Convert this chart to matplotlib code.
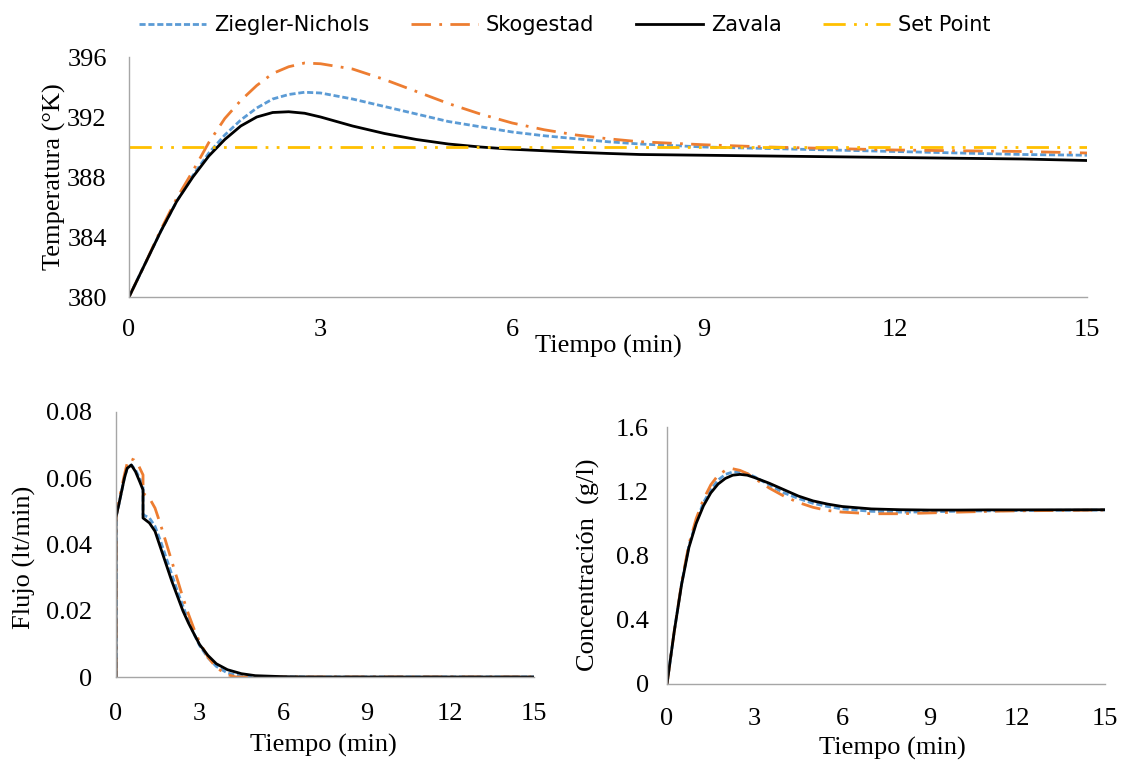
import matplotlib
matplotlib.use("Agg")
import matplotlib.pyplot as plt

# ---------------- data ----------------
# Temperature response (K)
t_temp = [0, 0.25, 0.5, 0.75, 1.0, 1.25, 1.5, 1.75, 2.0, 2.25, 2.5, 2.75, 3.0,
          3.5, 4.0, 4.5, 5.0, 5.5, 6.0, 6.5, 7.0, 7.5, 8.0, 9.0, 10.0, 11.0,
          12.0, 13.0, 14.0, 15.0]
temp_zn = [380, 382.2, 384.4, 386.4, 388.1, 389.6, 390.8, 391.8, 392.6, 393.2,
           393.5, 393.65, 393.6, 393.2, 392.7, 392.2, 391.7, 391.35, 391.0,
           390.75, 390.55, 390.35, 390.2, 390.0, 389.9, 389.8, 389.7, 389.6,
           389.5, 389.45]
temp_sk = [380, 382.2, 384.5, 386.6, 388.4, 390.3, 391.9, 393.1, 394.1, 394.9,
           395.35, 395.6, 395.55, 395.2, 394.5, 393.7, 392.9, 392.2, 391.6,
           391.15, 390.8, 390.55, 390.35, 390.15, 390.0, 389.9, 389.8, 389.75,
           389.7, 389.6]
temp_za = [380, 382.2, 384.4, 386.4, 388.0, 389.4, 390.5, 391.4, 392.0, 392.3,
           392.35, 392.25, 392.0, 391.4, 390.9, 390.5, 390.2, 390.0, 389.85,
           389.75, 389.65, 389.57, 389.5, 389.45, 389.4, 389.35, 389.3, 389.25,
           389.2, 389.1]
set_point = 390

# Flow response (lt/min)
t_flow_zn = [0, 0, 0.1, 0.2, 0.3, 0.4, 0.55, 0.7, 0.85, 0.97, 0.97, 1.2, 1.4,
             1.6, 1.8, 2.0, 2.2, 2.4, 2.6, 2.8, 3.0, 3.3, 3.6, 4.0, 4.5, 5.0, 15.0]
flow_zn = [0, 0.048, 0.052, 0.056, 0.060, 0.063, 0.064, 0.0625, 0.060, 0.0575,
           0.049, 0.048, 0.0455, 0.041, 0.036, 0.031, 0.026, 0.0215, 0.017,
           0.013, 0.0095, 0.0058, 0.0032, 0.0012, 0.0002, 0, 0]
t_flow_sk = [0, 0, 0.1, 0.2, 0.3, 0.4, 0.5, 0.65, 0.8, 0.97, 0.97, 1.2, 1.4,
             1.6, 1.8, 2.0, 2.2, 2.4, 2.6, 2.8, 3.0, 3.3, 3.6, 4.0, 4.3, 15.0]
flow_sk = [0, 0.048, 0.053, 0.057, 0.061, 0.0645, 0.066, 0.0655, 0.064, 0.061,
           0.0555, 0.054, 0.051, 0.046, 0.0405, 0.035, 0.0295, 0.024, 0.019,
           0.0145, 0.0105, 0.006, 0.0028, 0.0007, 0, 0]
t_flow_za = [0, 0, 0.1, 0.2, 0.3, 0.4, 0.55, 0.7, 0.85, 0.97, 0.97, 1.2, 1.4,
             1.6, 1.8, 2.0, 2.2, 2.4, 2.6, 2.8, 3.0, 3.3, 3.6, 4.0, 4.5, 5.0,
             6.0, 7.0, 15.0]
flow_za = [0, 0.0484, 0.052, 0.056, 0.060, 0.063, 0.064, 0.062, 0.059, 0.0565,
           0.048, 0.0465, 0.044, 0.039, 0.034, 0.029, 0.0245, 0.020, 0.0163,
           0.013, 0.0098, 0.0065, 0.004, 0.0022, 0.001, 0.0004, 0.0001, 0, 0]

# Concentration response (g/l)
t_conc = [0, 0.25, 0.5, 0.75, 1.0, 1.25, 1.5, 1.75, 2.0, 2.25, 2.5, 2.75, 3.0,
          3.5, 4.0, 4.5, 5.0, 5.5, 6.0, 7.0, 8.0, 9.0, 10.0, 11.0, 12.0, 15.0]
conc_zn = [0, 0.33, 0.625, 0.86, 1.01, 1.13, 1.21, 1.27, 1.305, 1.32, 1.32,
           1.31, 1.29, 1.24, 1.19, 1.155, 1.125, 1.105, 1.09, 1.075, 1.07,
           1.072, 1.076, 1.078, 1.08, 1.083]
conc_sk = [0, 0.33, 0.63, 0.87, 1.03, 1.15, 1.24, 1.30, 1.33, 1.34, 1.33,
           1.31, 1.28, 1.22, 1.17, 1.13, 1.10, 1.08, 1.07, 1.06, 1.06, 1.065,
           1.07, 1.075, 1.078, 1.083]
conc_za = [0, 0.33, 0.62, 0.85, 1.0, 1.11, 1.19, 1.245, 1.28, 1.30, 1.305,
           1.30, 1.285, 1.25, 1.21, 1.17, 1.14, 1.12, 1.105, 1.09, 1.085,
           1.083, 1.083, 1.084, 1.084, 1.085]

x_ticks = [0, 3, 6, 9, 12, 15]
temp_ticks = [380, 384, 388, 392, 396]
flow_ticks = [0, 0.02, 0.04, 0.06, 0.08]
conc_ticks = [0, 0.4, 0.8, 1.2, 1.6]

# ---------------- style ----------------
C_ZN, C_SK, C_ZA, C_SP = "#5B9BD5", "#ED7D31", "#000000", "#FFC000"
LS_ZN = (0, (2.2, 1.0))
LS_SK = (0, (7, 3, 1, 3))
LS_SP = (0, (8, 3, 1, 3, 1, 3))
LW = 2.0
SPINE = "#A6A6A6"
FS = 19
plt.rcParams["font.family"] = ["Liberation Serif", "DejaVu Serif"]

fig = plt.figure(figsize=(11.23, 7.61), dpi=100)
W, H = 1123, 761


def axes_px(left, top, right, bottom):
    return fig.add_axes([left / W, 1 - bottom / H, (right - left) / W, (bottom - top) / H])


def style(ax, ylim, yticks, yfmt, xpad, ypad):
    ax.set_xlim(0, 15)
    ax.set_ylim(*ylim)
    ax.set_xticks(x_ticks)
    ax.set_yticks(yticks)
    ax.set_yticklabels([yfmt(v) for v in yticks])
    for s in ("top", "right"):
        ax.spines[s].set_visible(False)
    for s in ("left", "bottom"):
        ax.spines[s].set_color(SPINE)
        ax.spines[s].set_linewidth(1.0)
    ax.tick_params(axis="x", length=0, pad=xpad, labelsize=FS)
    ax.tick_params(axis="y", length=0, pad=ypad, labelsize=FS)


def labels(ax, xl, xpos, yl, ypos):
    ax.set_xlabel(xl, fontsize=FS)
    ax.xaxis.label.set_va("center")
    ax.xaxis.set_label_coords(*xpos)
    ax.set_ylabel(yl, fontsize=FS)
    ax.yaxis.label.set_va("center")
    ax.yaxis.set_label_coords(*ypos)


# Temperature
ax1 = axes_px(129, 57, 1087, 297)
ax1.plot(t_temp, temp_zn, color=C_ZN, ls=LS_ZN, lw=LW, label="Ziegler-Nichols")
ax1.plot(t_temp, temp_sk, color=C_SK, ls=LS_SK, lw=LW, label="Skogestad")
ax1.plot(t_temp, temp_za, color=C_ZA, lw=LW, label="Zavala")
ax1.plot([0, 15], [set_point, set_point], color=C_SP, ls=LS_SP, lw=LW, label="Set Point")
style(ax1, (380, 396), temp_ticks, lambda v: f"{v:d}", 16, 16)
labels(ax1, "Tiempo (min)", (0.5, -0.205), "Temperatura (°K)", (-0.078, 0.5))

# Flow
ax2 = axes_px(116, 412, 534, 677)
ax2.plot(t_flow_zn, flow_zn, color=C_ZN, ls=LS_ZN, lw=LW)
ax2.plot(t_flow_sk, flow_sk, color=C_SK, ls=LS_SK, lw=LW)
ax2.plot(t_flow_za, flow_za, color=C_ZA, lw=LW)
style(ax2, (0, 0.08), flow_ticks, lambda v: "0" if v == 0 else f"{v:.2f}", 19, 17)
labels(ax2, "Tiempo (min)", (0.495, -0.257), "Flujo (lt/min)", (-0.218, 0.45))

# Concentration
ax3 = axes_px(667, 427, 1105, 684)
ax3.plot(t_conc, conc_zn, color=C_ZN, ls=LS_ZN, lw=LW)
ax3.plot(t_conc, conc_sk, color=C_SK, ls=LS_SK, lw=LW)
ax3.plot(t_conc, conc_za, color=C_ZA, lw=LW)
style(ax3, (0, 1.6), conc_ticks, lambda v: "0" if v == 0 else f"{v:.1f}", 17, 13)
labels(ax3, "Tiempo (min)", (0.514, -0.249), "Concentración  (g/l)", (-0.18, 0.463))

handles, labs = ax1.get_legend_handles_labels()
fig.legend(handles, labs, loc="center", bbox_to_anchor=(565 / W, 1 - 25 / H),
           ncol=4, frameon=False, handlelength=3.2, columnspacing=2.0,
           handletextpad=0.4,
           prop={"family": ["Liberation Sans Narrow", "DejaVu Sans"], "size": 15})

fig.savefig("out.png", dpi=100, facecolor="white")
